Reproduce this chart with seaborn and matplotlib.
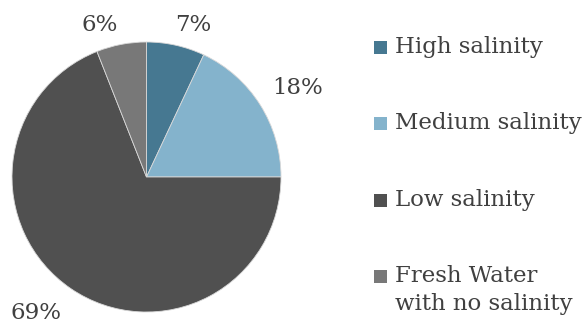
import matplotlib
matplotlib.use("Agg")
import matplotlib.pyplot as plt
from matplotlib.patches import Rectangle
import numpy as np
import seaborn as sns

# Share of water by salinity class (percent)
categories = ["High salinity", "Medium salinity", "Low salinity", "Fresh Water\nwith no salinity"]
shares = [7, 18, 69, 6]
colors = ["#467891", "#84b3cc", "#505050", "#787878"]
# percentage label placement: distance from centre and angular shift off the bisector (deg)
label_radius = [1.18, 1.30, 1.30, 1.18]
label_shift = [-4.5, -2.1, -4.8, 6.3]

sns.set_theme(style="white")
plt.rcParams["font.family"] = ["DejaVu Serif"]
text_color = "#404040"
font_size = 16.5

fig = plt.figure(figsize=(5.86, 3.29), dpi=100)
ax = fig.add_axes([12 / 586, 17 / 329, 269 / 586, 270 / 329])

wedges, _, pct_texts = ax.pie(
    shares,
    colors=colors,
    startangle=90,
    counterclock=False,
    radius=1.0,
    autopct="%d%%",
    pctdistance=1.2,
    wedgeprops=dict(edgecolor="#d8d8d8", linewidth=0.6),
    textprops=dict(color=text_color, fontsize=font_size),
)
ax.set_xlim(-1, 1)
ax.set_ylim(-1, 1)
ax.set_aspect("auto")

for w, t, r, s in zip(wedges, pct_texts, label_radius, label_shift):
    ang = np.deg2rad((w.theta1 + w.theta2) / 2 + s)
    t.set_position((r * np.cos(ang), r * np.sin(ang)))
    t.set_clip_on(False)

# legend: colour square followed by the category name
legend_x = 374 / 586
text_x = 395 / 586
row_y = [47, 123, 200, 276]
sq_w, sq_h = 13 / 586, 13 / 329
for cat, col, y in zip(categories, colors, row_y):
    yc = 1 - y / 329
    fig.patches.append(Rectangle((legend_x, yc - sq_h / 2), sq_w, sq_h,
                                 transform=fig.transFigure, facecolor=col,
                                 edgecolor="none"))
    lines = cat.split("\n")
    for i, line in enumerate(lines):
        fig.text(text_x, yc - i * 28 / 329, line, ha="left", va="center",
                 fontsize=font_size, color=text_color)

fig.savefig("out.png", dpi=100)
